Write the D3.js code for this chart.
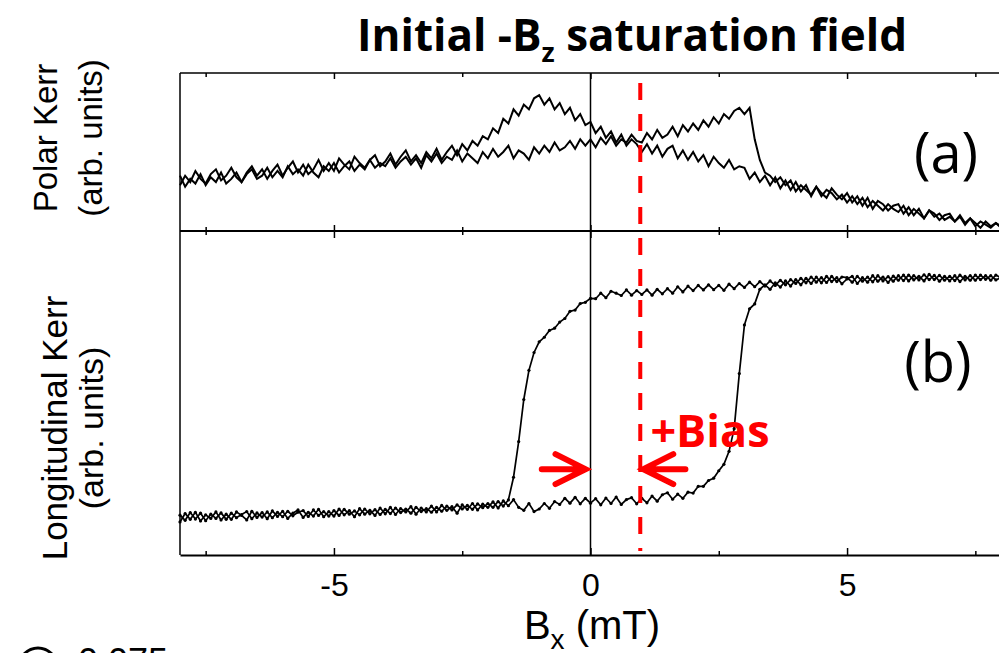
<!DOCTYPE html>
<html>
<head>
<meta charset="utf-8">
<script src="https://cdn.jsdelivr.net/npm/d3@7"></script>
<style>
  body { margin: 0; background: #fff; }
  text { font-family: "Liberation Sans", Arial, sans-serif; }
</style>
</head>
<body>
<div id="chart"></div>
<script>
// field sweep, -8 .. 8 mT in 0.1 mT steps (sampling grid only)
const fieldValues = d3.range(-80, 81).map(i => i / 10);

// (a) polar Kerr, arb. units (0-100), two sweep branches
const polarA = [
  29, 35, 31, 38, 33, 30, 36, 39, 32, 35,
  40, 34, 31, 37, 41, 35, 39, 33, 38, 42,
  35, 40, 44, 37, 42, 36, 39, 45, 38, 43,
  38, 46, 42, 39, 47, 43, 40, 45, 48, 41,
  44, 49, 42, 47, 51, 44, 48, 43, 50, 46,
  52, 45, 50, 54, 48, 55, 51, 57, 54, 60,
  58, 65, 62, 71, 68, 77, 73, 80, 77, 84,
  86, 80, 84, 77, 81, 74, 78, 70, 74, 67,
  69, 62, 66, 59, 63, 56, 61, 54, 58, 55,
  50, 55, 49, 54, 47, 52, 54, 46, 51, 45,
  50, 44, 48, 41, 47, 43, 40, 45, 39, 41,
  40, 33, 37, 31, 35, 29, 34, 27, 32, 26,
  31, 25, 29, 22, 28, 24, 21, 27, 23, 20,
  24, 18, 22, 16, 21, 14, 19, 17, 13, 16,
  17, 11, 15, 10, 14, 8, 13, 11, 7, 10,
  11, 6, 9, 4, 8, 5, 2, 6, 3, 5, 2
];
const polarB = [
  35, 28, 33, 30, 36, 29, 34, 31, 37, 30,
  33, 37, 31, 36, 39, 33, 35, 40, 34, 38,
  34, 41, 36, 39, 35, 42, 37, 34, 41, 38,
  43, 37, 41, 44, 38, 42, 39, 45, 40, 43,
  41, 46, 40, 44, 47, 42, 46, 40, 48, 44,
  49, 43, 47, 45, 51, 44, 49, 46, 43, 50,
  46, 52, 47, 50, 54, 46, 51, 49, 45, 53,
  49, 54, 50, 56, 51, 53, 57, 52, 58, 54,
  58, 53, 59, 55, 60, 54, 58, 56, 61, 57,
  56, 62, 58, 64, 59, 61, 66, 60, 67, 63,
  68, 64, 70, 66, 72, 68, 74, 71, 76, 78,
  74, 78, 58, 45, 37, 35, 31, 34, 29, 32,
  25, 29, 26, 23, 28, 22, 26, 24, 20, 23,
  18, 22, 17, 21, 15, 19, 16, 13, 17, 14,
  12, 16, 10, 14, 11, 8, 13, 9, 11, 7,
  9, 6, 10, 5, 8, 3, 6, 4, 2, 5, 3
];

// (b) longitudinal Kerr, arb. units (0-100)
const longUp = [
  10.2, 12.8, 11, 13.2, 10.5, 12.4, 11.3, 13.3, 10.8, 12.6,
  11, 13.3, 12.2, 10.8, 13.5, 11.6, 13.1, 11.2, 13.6, 11.9,
  13.5, 11.3, 12.9, 13.9, 11.6, 13.2, 12, 14.1, 11.8, 13.4,
  12, 14.2, 12.4, 13.7, 11.8, 14.3, 12.6, 13.8, 12.2, 14.5,
  12.7, 14.7, 12.5, 14.3, 13.3, 14.9, 12.6, 14.5, 13.3, 15.1,
  13.3, 15.3, 13.8, 14.9, 12.9, 15.5, 14.1, 15.9, 13.9, 15.7,
  14.7, 16.4, 14.5, 16.7, 15.2, 17.1, 14.7, 13.8, 15.9, 13.4,
  14.2, 15.9, 14.4, 16.5, 15.6, 17.5, 16, 17.8, 15.8, 17.5,
  16, 17.4, 15.5, 17.6, 15.9, 17.9, 15.6, 17.1, 17.7, 15.8,
  17.5, 16.1, 18.2, 16.6, 18.6, 19.2, 17.2, 18.8, 17.5, 19.4,
  19.1, 21.2, 21.2, 23, 23.7, 26, 28, 32, 39, 56,
  71, 76, 77.5, 82, 83.4, 82, 84, 82.7, 84.6, 83,
  85, 83.4, 85.4, 83.8, 85.8, 84, 86, 84.4, 85.6, 83.7,
  85.2, 86, 83.8, 85.6, 84.2, 86.2, 84.5, 85.8, 84.1, 86.1,
  84.8, 86.4, 84.6, 86.2, 84.9, 86.5, 85, 86.3, 84.5, 86,
  84.6, 86.2, 84.4, 86, 84.8, 86.4, 85, 86.2, 84.8, 86.4, 85.5
];
const longDown = [
  12.3, 10.7, 13.1, 11.1, 12.9, 10.6, 12.6, 11.3, 13, 11,
  12.9, 11.5, 12.5, 13.4, 11.2, 13, 11.7, 13.3, 11.5, 13.2,
  11.8, 13.5, 12.1, 13.2, 13.7, 11.9, 13.9, 12.2, 13.4, 12,
  13.7, 12.2, 14.1, 12.6, 13.6, 12.4, 14.2, 12.7, 14, 12.5,
  14.1, 12.8, 14.5, 13.1, 14.2, 12.9, 14.7, 13.4, 14.3, 13.2,
  14.7, 13.5, 15.1, 13.9, 15.5, 14.2, 15.3, 14.1, 15.8, 14.6,
  15.9, 14.7, 16.5, 15.1, 17, 24, 35, 48, 57, 62.5,
  65.8, 67.2, 69.3, 70, 71.9, 73, 75.2, 75.6, 77.6, 78,
  79.2, 79.1, 80.8, 79.4, 81.4, 80.8, 80.1, 81.8, 80.2, 81.6,
  80.4, 81.8, 80.2, 82, 80.6, 82.2, 80.8, 82.8, 81.2, 83,
  81.6, 83.2, 81.8, 83.4, 81.9, 83.2, 81.7, 83.6, 82.2, 83.8,
  82.6, 84.2, 82.8, 84.4, 83, 84.6, 83.2, 84.8, 83.4, 85,
  83.8, 85.4, 84, 85.8, 84.2, 85.6, 84.1, 86, 84.4, 85.8,
  85.6, 84.2, 86, 84.5, 85.8, 84.3, 86.2, 84.6, 85.9, 84.5,
  86.2, 84.7, 86.4, 84.9, 86, 84.6, 86.6, 85, 86.3, 84.8,
  86, 84.7, 86.4, 84.9, 86.2, 84.8, 86.4, 85.1, 86.2, 84.9, 85.6
];

const majorTicks = [-5, 0, 5];
const minorTicks = [-7.5, -2.5, 2.5, 7.5];
const biasField = 0.97; // mT, red dashed line

const width = 999, height = 653;
const left = 180, right = 1001;
const topA = 73, midY = 231, botB = 555;

const svg = d3.select("#chart").append("svg")
  .attr("width", width).attr("height", height);

const x = d3.scaleLinear().domain([-8, 8]).range([left, right]);
const yTop = d3.scaleLinear().domain([0, 100]).range([midY, topA]);
const yBot = d3.scaleLinear().domain([0, 100]).range([botB, midY]);

// ticks, all pointing inward
function tickRow(y, gen, values, size) {
  const g = svg.append("g").attr("transform", `translate(0,${y})`)
    .call(gen(x).tickValues(values).tickSizeInner(-size).tickSizeOuter(0).tickFormat(""));
  g.select(".domain").remove();
  g.selectAll("line").attr("stroke", "#000").attr("stroke-width", 1.5);
}
tickRow(topA, d3.axisTop, majorTicks, 6);
tickRow(topA, d3.axisTop, minorTicks, 4);
tickRow(midY, d3.axisBottom, majorTicks, 6);
tickRow(midY, d3.axisBottom, minorTicks, 4);
tickRow(midY, d3.axisTop, majorTicks, 7);
tickRow(midY, d3.axisTop, minorTicks, 4);

// labelled bottom axis
const xAxis = svg.append("g").attr("transform", `translate(0,${botB})`)
  .call(d3.axisBottom(x).tickValues(majorTicks).tickSizeInner(-7).tickSizeOuter(0)
    .tickPadding(18).tickFormat(d => String(d)));
xAxis.select(".domain").attr("stroke-width", 2);
xAxis.selectAll(".tick line").attr("stroke-width", 1.5);
xAxis.selectAll("text").attr("font-size", 32).attr("font-family", "Liberation Sans, Arial, sans-serif").attr("fill", "#000");
tickRow(botB, d3.axisBottom, minorTicks, 4);

// frame
svg.append("line").attr("x1", left).attr("x2", right).attr("y1", topA).attr("y2", topA)
  .attr("stroke", "#000").attr("stroke-width", 1.5);
svg.append("line").attr("x1", left).attr("x2", right).attr("y1", midY).attr("y2", midY)
  .attr("stroke", "#000").attr("stroke-width", 2);
svg.append("line").attr("x1", left).attr("x2", left).attr("y1", topA).attr("y2", botB)
  .attr("stroke", "#000").attr("stroke-width", 1.5);
svg.append("line").attr("x1", x(0)).attr("x2", x(0)).attr("y1", topA).attr("y2", botB)
  .attr("stroke", "#000").attr("stroke-width", 1.5);

// curves
const lineTop = d3.line().x((d, i) => x(fieldValues[i])).y(d => yTop(d));
const lineBot = d3.line().x((d, i) => x(fieldValues[i])).y(d => yBot(d));

[polarA, polarB].forEach(s => {
  svg.append("path").datum(s).attr("d", lineTop)
    .attr("fill", "none").attr("stroke", "#000").attr("stroke-width", 2);
});
[longUp, longDown].forEach(s => {
  svg.append("path").datum(s).attr("d", lineBot)
    .attr("fill", "none").attr("stroke", "#000").attr("stroke-width", 1.7);
  svg.append("g").selectAll("circle").data(s).join("circle")
    .attr("cx", (d, i) => x(fieldValues[i])).attr("cy", d => yBot(d))
    .attr("r", 1.6).attr("fill", "#000");
});

// bias line and arrows
svg.append("line").attr("x1", x(biasField)).attr("x2", x(biasField))
  .attr("y1", 83).attr("y2", 551)
  .attr("stroke", "#ff0000").attr("stroke-width", 4).attr("stroke-dasharray", "17,14");

const arrowY = yBot(26.5);
function arrow(tipX, tailX) {
  const dir = Math.sign(tailX - tipX);
  svg.append("path")
    .attr("d", `M${tailX},${arrowY}L${tipX + dir * 2},${arrowY}M${tipX + dir * 30},${arrowY - 15}L${tipX},${arrowY}L${tipX + dir * 30},${arrowY + 15}`)
    .attr("fill", "none").attr("stroke", "#ff0000").attr("stroke-width", 6)
    .attr("stroke-linecap", "round").attr("stroke-linejoin", "miter");
}
arrow(x(0) - 5, x(-0.95));
arrow(x(biasField) + 3, x(1.85));

svg.append("text").attr("x", 710).attr("y", 447).attr("text-anchor", "middle")
  .style("font-family", "'Open Sans', sans-serif").attr("font-weight", "bold")
  .attr("font-size", 45).attr("fill", "#ff0000").text("+Bias");

// title
const title = svg.append("text").attr("x", 632).attr("y", 51).attr("text-anchor", "middle")
  .style("font-family", "'Open Sans', sans-serif").attr("font-weight", "bold").attr("font-size", 44);
title.append("tspan").text("Initial -B");
title.append("tspan").attr("font-size", 27).attr("dy", 11).text("z");
title.append("tspan").attr("dy", -11).text(" saturation field");

// panel letters
svg.append("text").attr("x", 946).attr("y", 173).attr("text-anchor", "middle")
  .style("font-family", "'Open Sans', sans-serif").attr("font-size", 56).text("(a)");
svg.append("text").attr("x", 938).attr("y", 382).attr("text-anchor", "middle")
  .style("font-family", "'Open Sans', sans-serif").attr("font-size", 56).text("(b)");

// y labels
function yLabel(bx, cy, txt, fs) {
  svg.append("text").attr("transform", `translate(${bx},${cy}) rotate(-90)`)
    .attr("text-anchor", "middle").attr("font-size", fs).text(txt);
}
yLabel(57, 138, "Polar Kerr", 33);
yLabel(102, 138, "(arb. units)", 33);
yLabel(67, 428, "Longitudinal Kerr", 35);
yLabel(103, 428, "(arb. units)", 34);

// x label
const xl = svg.append("text").attr("x", 592).attr("y", 639).attr("text-anchor", "middle").attr("font-size", 40);
xl.append("tspan").text("B");
xl.append("tspan").attr("font-size", 28).attr("dy", 10).text("x");
xl.append("tspan").attr("dy", -10).text(" (mT)");

// fragment of the next figure at the bottom edge
svg.append("circle").attr("cx", 38).attr("cy", 667).attr("r", 19)
  .attr("fill", "none").attr("stroke", "#000").attr("stroke-width", 3);
svg.append("text").attr("x", 78).attr("y", 674).attr("font-size", 36).text("0.075");
</script>
</body>
</html>
